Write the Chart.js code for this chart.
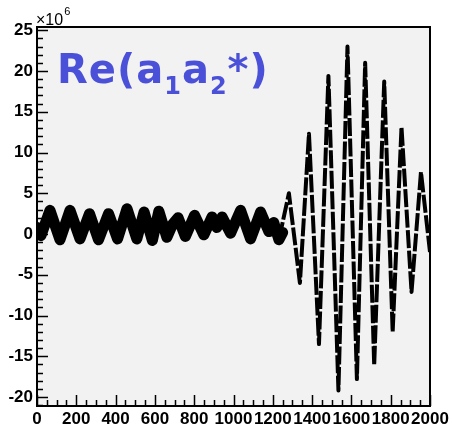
<!DOCTYPE html>
<html>
<head>
<meta charset="utf-8">
<script src="https://cdn.jsdelivr.net/npm/chart.js@4/dist/chart.umd.min.js"></script>
<style>
  html, body { margin: 0; padding: 0; background: #fff; }
  #wrap { width: 452px; height: 430px; }
</style>
</head>
<body>
<div id="wrap"><canvas id="reChart"></canvas></div>
<script>
// values are in units of 10^6
// noisy band, 0 .. ~1250 (centre line of the band)
var bandX = [0, 20, 66, 117, 168, 219, 267, 313, 364, 410, 458, 508, 545, 587, 620, 661, 690, 718, 755, 802, 849, 891, 915, 942, 985, 1036, 1087, 1138, 1180, 1205, 1231, 1250];
var bandY = [0.8, -0.2, 2.9, -0.7, 2.9, -0.6, 2.5, -0.7, 2.5, -0.6, 3.1, -0.6, 2.7, -0.8, 2.8, -0.4, 1.2, 2.0, -0.3, 2.3, -0.1, 2.1, 0.8, 2.1, 0.1, 2.9, -0.6, 2.7, 0.3, 1.4, -0.7, 0.2];

// large oscillation, ~1230 .. 2000
var waveX = [1231, 1282, 1338, 1384, 1435, 1483, 1534, 1580, 1628, 1670, 1716, 1767, 1810, 1855, 1906, 1954, 2000];
var waveY = [-0.7, 5.0, -6.0, 12.3, -13.5, 19.4, -19.2, 23.0, -17.8, 21.0, -16.1, 18.7, -12.0, 13.1, -7.1, 7.6, -2.2];

var xTicks = [0, 200, 400, 600, 800, 1000, 1200, 1400, 1600, 1800, 2000];
var yTicks = [-20, -15, -10, -5, 0, 5, 10, 15, 20, 25];
var xRange = [0, 2000];
var yRange = [-21.1, 25.4];

var titleParts = [['Re(a', 'main'], ['1', 'sub'], ['a', 'main'], ['2', 'sub'], ['*)', 'main']];

function pts(xs, ys) {
    return xs.map(function (x, i) { return { x: x, y: ys[i] }; });
}

var labelFont = { family: '"Liberation Sans", Arial, sans-serif', size: 17, weight: 'bold' };

// ROOT-like frame: grey pad, inner ticks, exponent, title
var rootFrame = {
    id: 'rootFrame',
    beforeDraw: function (chart) {
        var a = chart.chartArea, ctx = chart.ctx;
        ctx.save();
        ctx.fillStyle = '#f2f2f2';
        ctx.fillRect(a.left, a.top, a.right - a.left, a.bottom - a.top);
        ctx.restore();
    },
    afterDraw: function (chart) {
        var a = chart.chartArea, ctx = chart.ctx;
        var xs = chart.scales.x, ys = chart.scales.y;
        ctx.save();
        ctx.strokeStyle = '#000';
        ctx.lineWidth = 1.5;
        ctx.beginPath();
        // y ticks
        for (var v = -21; v <= 25; v++) {
            var py = Math.round(ys.getPixelForValue(v)) + 0.5;
            var len = (v % 5 === 0) ? 11 : 6;
            ctx.moveTo(a.left, py);
            ctx.lineTo(a.left + len, py);
        }
        // x ticks
        for (var u = 0; u <= 2000; u += 50) {
            var px = Math.round(xs.getPixelForValue(u)) + 0.5;
            var l2 = (u % 200 === 0) ? 11 : 6;
            ctx.moveTo(px, a.bottom);
            ctx.lineTo(px, a.bottom - l2);
        }
        ctx.stroke();

        ctx.lineWidth = 2;
        ctx.strokeRect(a.left, a.top, a.right - a.left, a.bottom - a.top);

        // exponent label
        ctx.fillStyle = '#000';
        ctx.textBaseline = 'alphabetic';
        ctx.font = '16px "Liberation Sans", Arial, sans-serif';
        ctx.fillText('\u00d710', a.left - 1, a.top - 2);
        var w = ctx.measureText('\u00d710').width;
        ctx.font = '11px "Liberation Sans", Arial, sans-serif';
        ctx.fillText('6', a.left + w, a.top - 12);

        // title
        ctx.fillStyle = '#4a50d8';
        ctx.letterSpacing = '1px';
        var x = 57;
        titleParts.forEach(function (p) {
            if (p[1] === 'main') {
                ctx.font = 'bold 40px "DejaVu Sans", sans-serif';
                ctx.fillText(p[0], x, 83);
            } else {
                ctx.font = 'bold 24px "DejaVu Sans", sans-serif';
                ctx.fillText(p[0], x, 94);
            }
            x += ctx.measureText(p[0]).width;
        });
        ctx.restore();
    }
};

new Chart(document.getElementById('reChart'), {
    type: 'scatter',
    data: {
        datasets: [{
            data: pts(bandX, bandY),
            showLine: true,
            borderColor: '#000',
            borderWidth: 11,
            borderJoinStyle: 'round',
            borderCapStyle: 'round',
            pointRadius: 0,
            tension: 0
        }, {
            data: pts(waveX, waveY),
            showLine: true,
            borderColor: '#000',
            borderWidth: 4,
            borderDash: [18, 2.5],
            borderJoinStyle: 'round',
            pointRadius: 0,
            tension: 0
        }]
    },
    options: {
        responsive: true,
        maintainAspectRatio: false,
        animation: false,
        layout: { padding: { left: 0, top: 27, right: 22, bottom: 0 } },
        plugins: {
            legend: { display: false },
            tooltip: { enabled: false }
        },
        scales: {
            x: {
                type: 'linear',
                min: xRange[0],
                max: xRange[1],
                grid: { display: false, drawTicks: false },
                border: { display: false },
                afterBuildTicks: function (s) { s.ticks = xTicks.map(function (v) { return { value: v }; }); },
                afterFit: function (s) { s.height = 24; },
                ticks: {
                    font: labelFont, color: '#000', padding: 3, autoSkip: false, maxRotation: 0,
                    callback: function (v) { return String(v); }
                }
            },
            y: {
                type: 'linear',
                min: yRange[0],
                max: yRange[1],
                grid: { display: false, drawTicks: false },
                border: { display: false },
                afterBuildTicks: function (s) { s.ticks = yTicks.map(function (v) { return { value: v }; }); },
                afterFit: function (s) { s.width = 37; },
                ticks: { font: labelFont, color: '#000', padding: 4, callback: function (v) { return String(v); } }
            }
        }
    },
    plugins: [rootFrame]
});
</script>
</body>
</html>
